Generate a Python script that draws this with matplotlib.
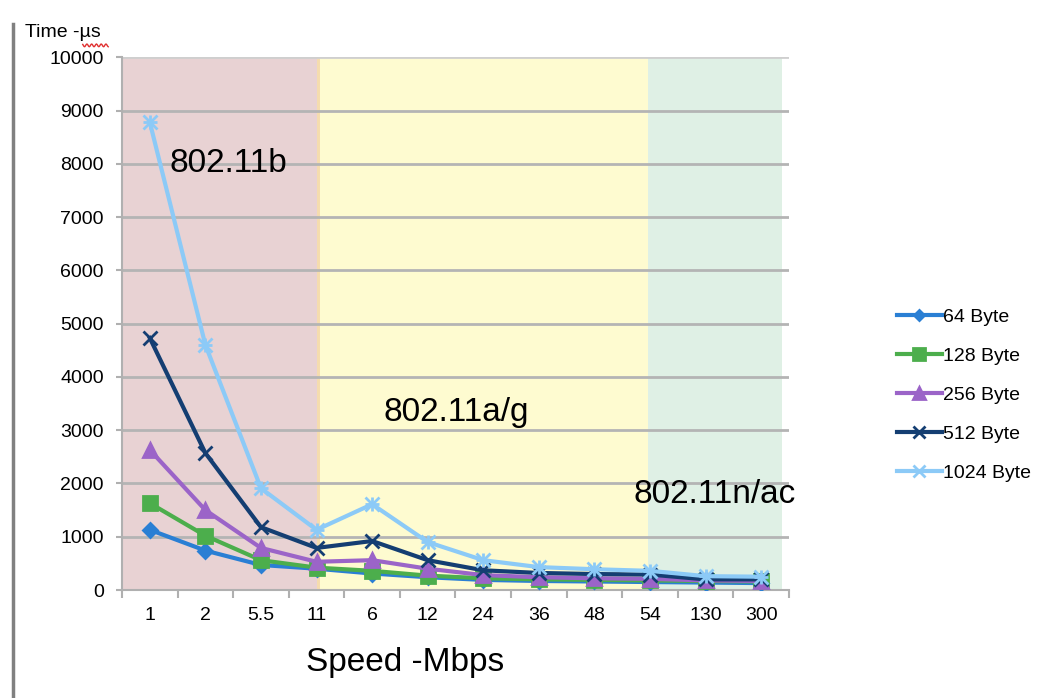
import numpy as np
import matplotlib
matplotlib.use('Agg')
import matplotlib.pyplot as plt
from matplotlib.lines import Line2D

plt.rcParams['font.family'] = ['Liberation Sans', 'DejaVu Sans']

# Data
speeds = ['1', '2', '5.5', '11', '6', '12', '24', '36', '48', '54', '130', '300']
b64 = [1130, 740, 470, 400, 310, 240, 190, 170, 160, 150, 140, 130]
b128 = [1630, 1020, 560, 420, 360, 270, 220, 200, 190, 180, 170, 160]
b256 = [2630, 1500, 790, 530, 560, 400, 280, 240, 220, 210, 180, 170]
b512 = [4730, 2570, 1180, 790, 920, 560, 370, 320, 300, 290, 200, 200]
b1024 = [8780, 4600, 1910, 1130, 1610, 900, 560, 430, 390, 360, 260, 250]
labels = ['64 Byte', '128 Byte', '256 Byte', '512 Byte', '1024 Byte']

# band extents in category index units
bands = [(-0.5, 3.02, '#e8d2d3'), (3.05, 8.96, '#fefbd0'), (8.96, 11.37, '#dff0e5')]

fig = plt.figure(figsize=(10.61, 6.98), dpi=100)
ax = fig.add_axes([0.115, 0.1547, 0.6286, 0.7633])

x = np.arange(len(speeds))
for x0, x1, c in bands:
    ax.axvspan(x0, x1, color=c, lw=0, zorder=0)
ax.axvspan(3.0, 3.07, color='#f5dcae', lw=0, zorder=0)

for yv in range(1000, 10001, 1000):
    ax.axhline(yv, color='#b4b4b4' if yv < 10000 else '#cfcfcf', lw=2, zorder=1)

series = [b64, b128, b256, b512, b1024]
colors = ['#2a7fd4', '#4cae4c', '#9b64c8', '#143e72', '#8ccaf7']
markers = ['D', 's', '^', 'x', 'x']
msizes = [7, 10, 10, 10, 10]
for vals, c, m, ms, lab in zip(series, colors, markers, msizes, labels):
    ax.plot(x, vals, color=c, lw=3, marker=m, ms=ms, mew=2, label=lab, zorder=3)
# the 1024 marker is a star-like cross
ax.plot(x, b1024, ls='none', marker='+', ms=10, mew=2, color=colors[4], zorder=3)

ax.set_xlim(-0.5, 11.5)
ax.set_ylim(0, 10000)
ax.set_yticks(range(0, 10001, 1000))
ax.set_xticks(x)
ax.set_xticklabels(speeds, fontsize=14)
ax.set_xticks(np.arange(-0.5, 12, 1), minor=True)
ax.tick_params(axis='x', which='major', length=0, pad=12)
ax.tick_params(axis='x', which='minor', length=6, width=1.5, color='#b0b0b0')
ax.tick_params(axis='y', length=4, width=1.5, color='#b0b0b0', labelsize=14, pad=9)
for s in ['top', 'right']:
    ax.spines[s].set_visible(False)
for s in ['left', 'bottom']:
    ax.spines[s].set_color('#b0b0b0')
    ax.spines[s].set_linewidth(1.5)

ax.text(0.35, 8000, '802.11b', fontsize=24, va='center', zorder=4)
ax.text(4.2, 3330, '802.11a/g', fontsize=24, va='center', zorder=4)
ax.text(8.7, 1800, '802.11n/ac', fontsize=24, va='center', zorder=4, clip_on=False)

ax.set_xlabel('Speed -Mbps', fontsize=24)
ax.xaxis.label.set_va('center')
ax.xaxis.set_label_coords(0.424, (590 - 663) / 533)
fig.text(0.024, 0.953, 'Time -µs', fontsize=14, va='center')
# red spell-check squiggle under "µs"
wx = np.linspace(0.078, 0.102, 40)
fig.add_artist(Line2D(wx, 0.935 + 0.002 * np.sin(wx * 1400), color='#e03030', lw=1))
# left frame line
fig.add_artist(Line2D([0.012, 0.012], [0, 0.965], color='#808080', lw=2.5))

handles = [Line2D([], [], color=c, lw=3, marker=m, ms=ms * 0.8, mew=2)
           for c, m, ms in zip(colors, markers, msizes)]
fig.legend(handles, labels, loc='center left', bbox_to_anchor=(0.829, 0.434),
           frameon=False, fontsize=14, handlelength=2.3, handletextpad=0.05,
           labelspacing=1.1)

fig.savefig('out.png', dpi=100)
